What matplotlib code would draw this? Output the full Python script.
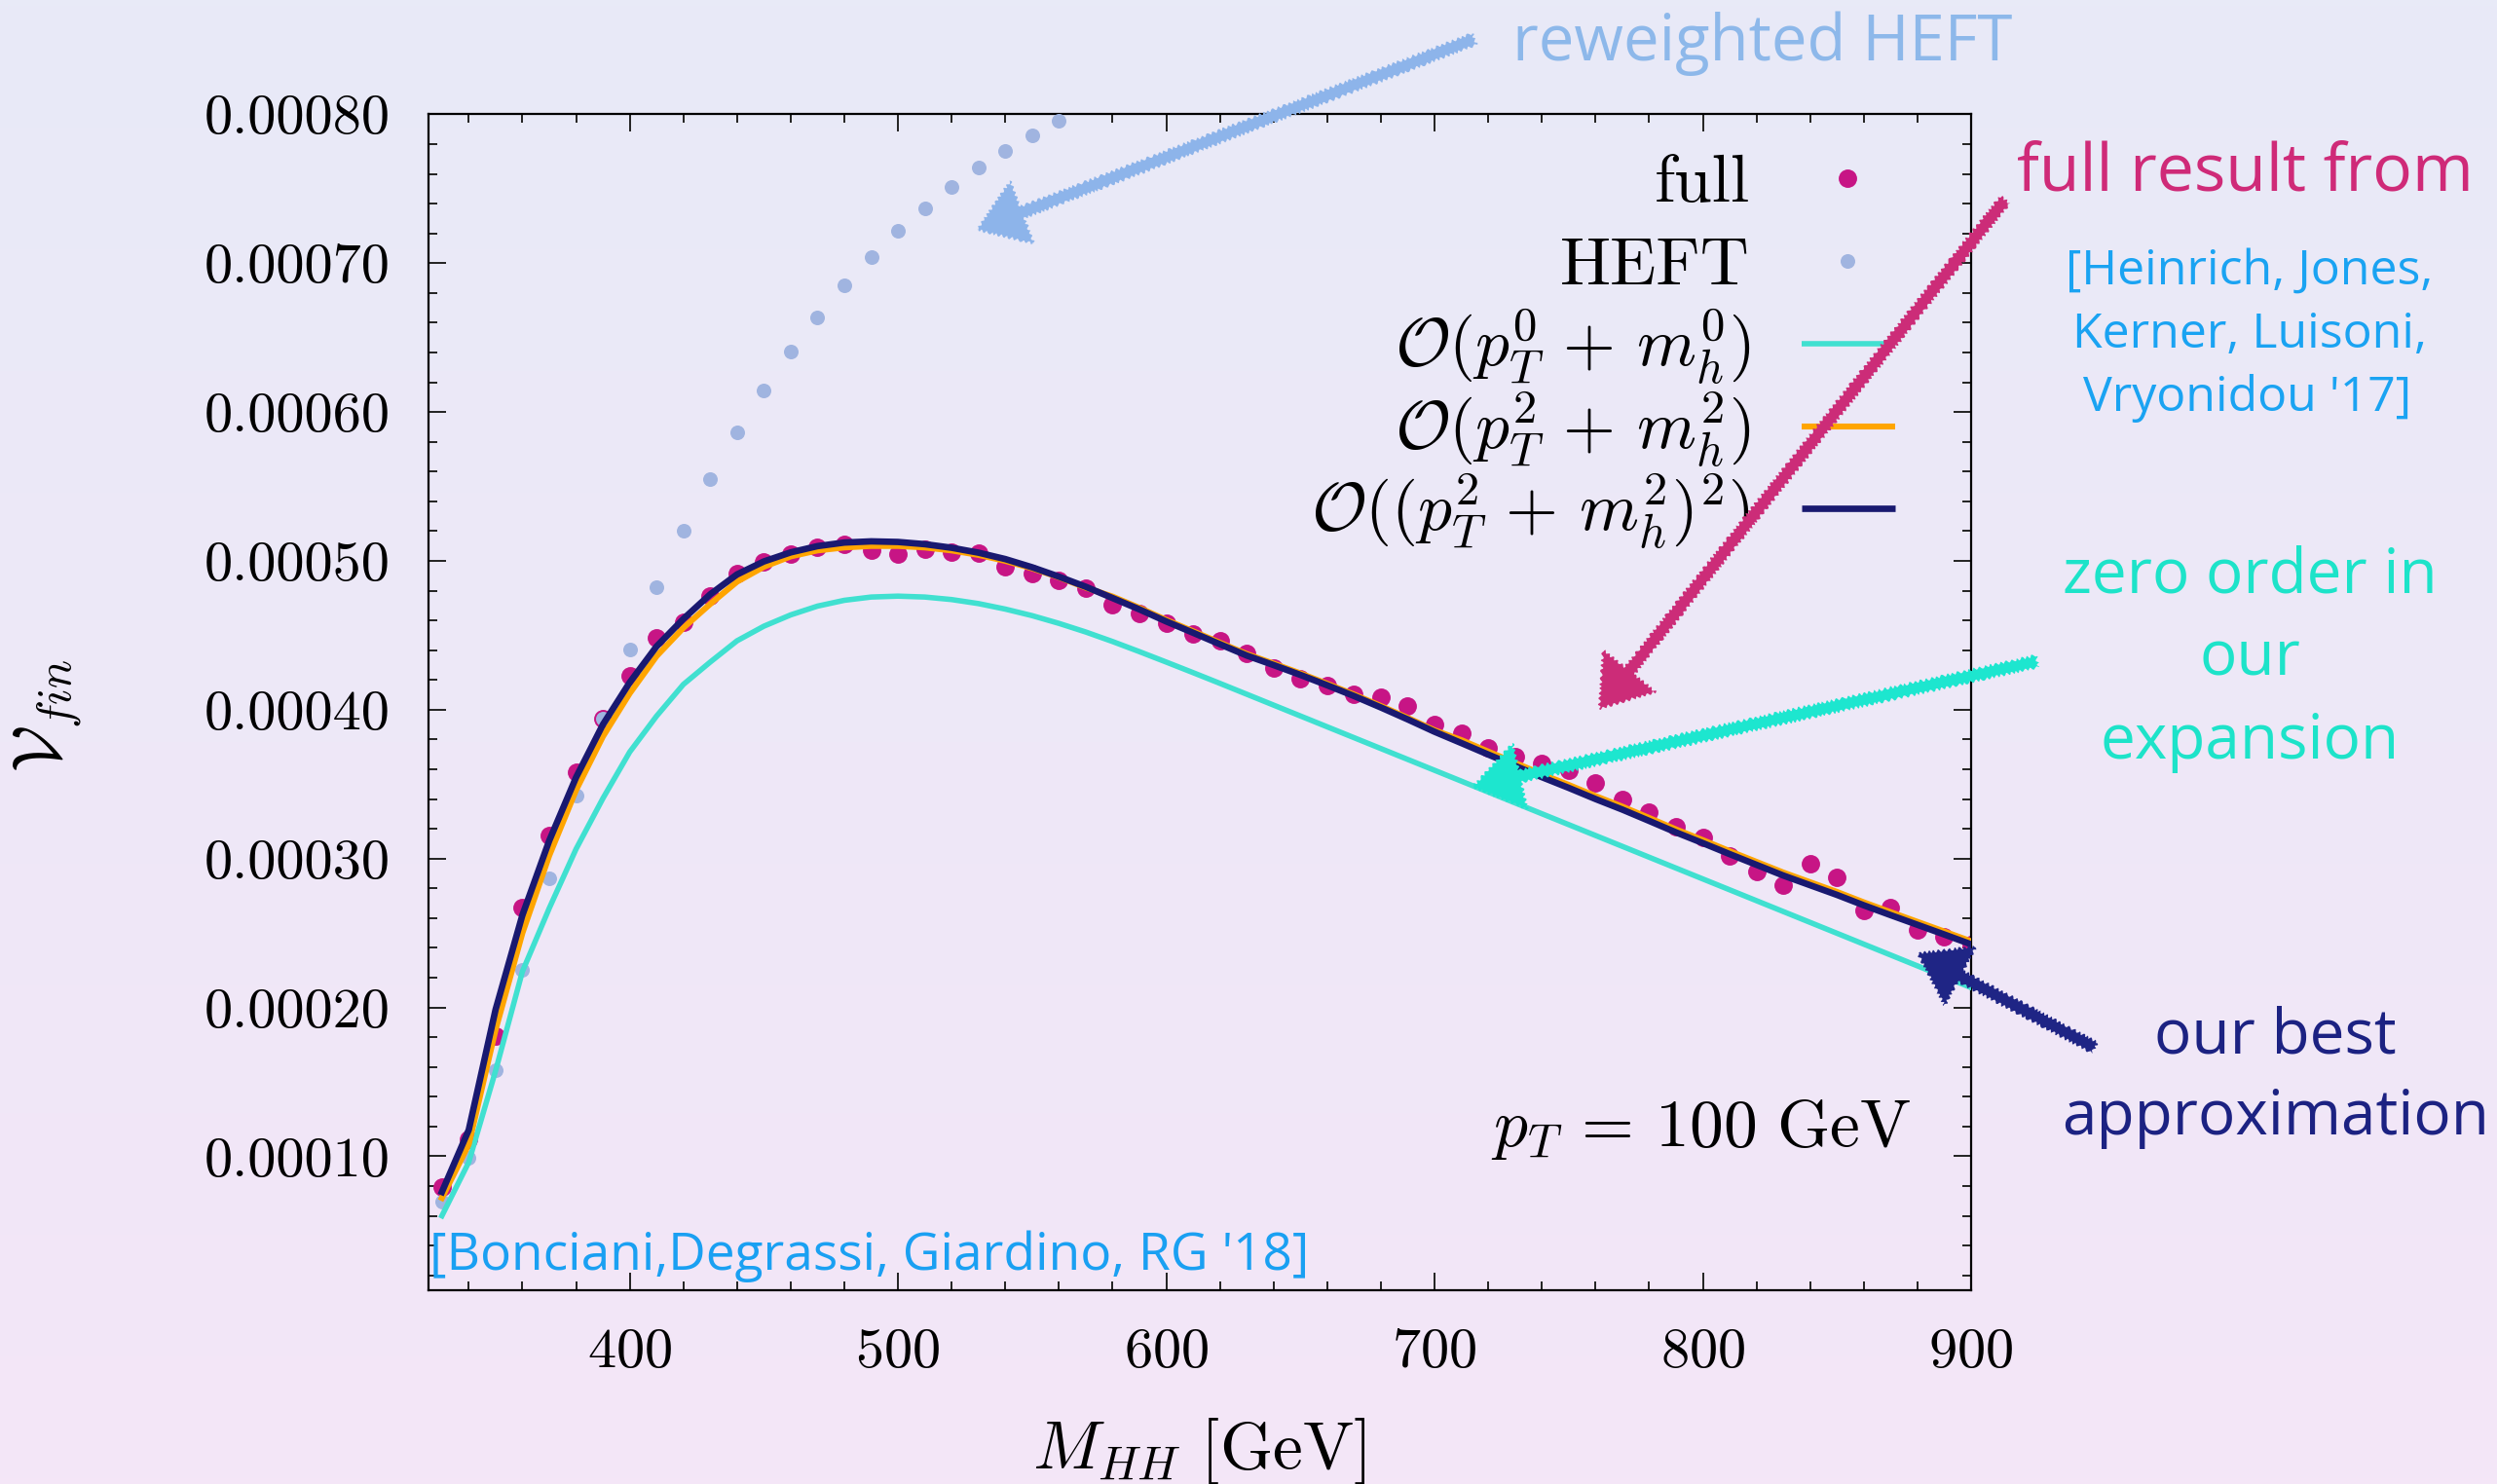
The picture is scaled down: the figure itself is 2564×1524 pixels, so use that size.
import numpy as np
import matplotlib
matplotlib.use('Agg')
import matplotlib.pyplot as plt
from matplotlib.ticker import MultipleLocator, FormatStrFormatter
from matplotlib.patches import FancyArrowPatch
from matplotlib.lines import Line2D

# M_HH grid (GeV)
m_full = np.arange(330, 901, 10)
m_heft = np.arange(330, 561, 10)
m_curve = np.arange(330, 901, 10)

# full result (points)
v_full = [0.0000795, 0.0001116, 0.0001810, 0.0002673, 0.0003154, 0.0003582,
          0.0003942, 0.0004226, 0.0004480, 0.0004587, 0.0004765, 0.0004912,
          0.0004993, 0.0005046, 0.0005093, 0.0005111, 0.0005071, 0.0005048,
          0.0005077, 0.0005060, 0.0005052, 0.0004960, 0.0004917, 0.0004868,
          0.0004819, 0.0004708, 0.0004647, 0.0004582, 0.0004510, 0.0004462,
          0.0004381, 0.0004279, 0.0004211, 0.0004163, 0.0004103, 0.0004085,
          0.0004026, 0.0003900, 0.0003841, 0.0003743, 0.0003684, 0.0003640,
          0.0003595, 0.0003510, 0.0003398, 0.0003311, 0.0003215, 0.0003143,
          0.0003019, 0.0002910, 0.0002823, 0.0002964, 0.0002875, 0.0002653,
          0.0002674, 0.0002522, 0.0002472, 0.0002424]

# reweighted HEFT (points)
v_heft = [0.0000696, 0.0000990, 0.0001580, 0.0002255, 0.0002865, 0.0003426,
          0.0003940, 0.0004402, 0.0004821, 0.0005203, 0.0005549, 0.0005865,
          0.0006147, 0.0006404, 0.0006638, 0.0006850, 0.0007039, 0.0007215,
          0.0007369, 0.0007511, 0.0007640, 0.0007757, 0.0007861, 0.0007955]

# O(pT^0 + mh^0)
v_lo = [0.0000600, 0.0000960, 0.0001574, 0.0002241, 0.0002666, 0.0003064,
        0.0003404, 0.0003716, 0.0003957, 0.0004170, 0.0004320, 0.0004463,
        0.0004561, 0.0004637, 0.0004696, 0.0004735, 0.0004757, 0.0004763,
        0.0004757, 0.0004740, 0.0004713, 0.0004676, 0.0004632, 0.0004580,
        0.0004522, 0.0004458, 0.0004390, 0.0004320, 0.0004249, 0.0004177,
        0.0004104, 0.0004031, 0.0003958, 0.0003885, 0.0003812, 0.0003739,
        0.0003666, 0.0003593, 0.0003520, 0.0003447, 0.0003374, 0.0003301,
        0.0003228, 0.0003155, 0.0003082, 0.0003009, 0.0002936, 0.0002863,
        0.0002790, 0.0002717, 0.0002644, 0.0002571, 0.0002498, 0.0002425,
        0.0002352, 0.0002279, 0.0002206, 0.0002133]

# O(pT^2 + mh^2)
v_nlo = [0.0000720, 0.0001080, 0.0001850, 0.0002500, 0.0003020, 0.0003460,
         0.0003820, 0.0004110, 0.0004360, 0.0004550, 0.0004710, 0.0004860,
         0.0004960, 0.0005030, 0.0005070, 0.0005090, 0.0005100, 0.0005100,
         0.0005090, 0.0005070, 0.0005040, 0.0005000, 0.0004950, 0.0004890,
         0.0004820, 0.0004760, 0.0004684, 0.0004603, 0.0004527, 0.0004450,
         0.0004374, 0.0004310, 0.0004244, 0.0004174, 0.0004102, 0.0004025,
         0.0003945, 0.0003862, 0.0003796, 0.0003719, 0.0003643, 0.0003567,
         0.0003495, 0.0003420, 0.0003349, 0.0003273, 0.0003196, 0.0003124,
         0.0003050, 0.0002978, 0.0002906, 0.0002841, 0.0002776, 0.0002706,
         0.0002640, 0.0002575, 0.0002510, 0.0002444]

# O((pT^2 + mh^2)^2)
v_nnlo = [0.0000760, 0.0001177, 0.0001985, 0.0002620, 0.0003120, 0.0003545,
          0.0003900, 0.0004183, 0.0004425, 0.0004610, 0.0004775, 0.0004909,
          0.0004996, 0.0005057, 0.0005099, 0.0005123, 0.0005131, 0.0005127,
          0.0005112, 0.0005088, 0.0005055, 0.0005012, 0.0004957, 0.0004894,
          0.0004826, 0.0004750, 0.0004674, 0.0004593, 0.0004517, 0.0004440,
          0.0004364, 0.0004300, 0.0004234, 0.0004164, 0.0004092, 0.0004015,
          0.0003935, 0.0003852, 0.0003776, 0.0003699, 0.0003623, 0.0003547,
          0.0003475, 0.0003400, 0.0003329, 0.0003253, 0.0003176, 0.0003104,
          0.0003030, 0.0002958, 0.0002886, 0.0002821, 0.0002756, 0.0002686,
          0.0002620, 0.0002555, 0.0002490, 0.0002424]

C_FULL = '#c71585'
C_HEFT = '#a0b4e0'
C_LO = '#40e0d0'
C_NLO = '#ffa500'
C_NNLO = '#191970'

W, H, DPI = 2564, 1524, 200

plt.rcParams['font.family'] = 'serif'
plt.rcParams['font.serif'] = ['cmr10']
plt.rcParams['mathtext.fontset'] = 'cm'
plt.rcParams['axes.formatter.use_mathtext'] = True


def fx(x):
    return x / W


def fy(y):
    return 1 - y / H


fig = plt.figure(figsize=(W / DPI, H / DPI), dpi=DPI)

# soft vertical background gradient
bg = fig.add_axes([0, 0, 1, 1], zorder=-10)
c_top = np.array([0xe8, 0xea, 0xf7]) / 255
c_bot = np.array([0xf4, 0xe6, 0xf7]) / 255
t = np.linspace(0, 1, 256)[:, None]
grad = c_top + (c_bot - c_top) * t
bg.imshow(grad[:, None, :], aspect='auto', extent=[0, 1, 0, 1])
bg.axis('off')

ax = fig.add_axes([fx(440), fy(1325), (2024 - 440) / W, (1325 - 117.4) / H])
ax.patch.set_alpha(0)

ax.plot(m_full, v_full, 'o', color=C_FULL, ms=6.8, mew=0, zorder=2)
ax.plot(m_heft, v_heft, 'o', color=C_HEFT, ms=5.4, mew=0, zorder=3)
ax.plot(m_curve, v_lo, color=C_LO, lw=2.0, zorder=4)
ax.plot(m_curve, v_nlo, color=C_NLO, lw=2.2, zorder=5)
ax.plot(m_curve, v_nnlo, color=C_NNLO, lw=2.4, zorder=6)

ax.set_xlim(325, 900)
ax.set_ylim(0.00001, 0.0008)
ax.xaxis.set_major_locator(MultipleLocator(100))
ax.xaxis.set_minor_locator(MultipleLocator(20))
ax.yaxis.set_major_locator(MultipleLocator(0.0001))
ax.yaxis.set_minor_locator(MultipleLocator(0.00002))
ax.yaxis.set_major_formatter(FormatStrFormatter('%.5f'))
ax.tick_params(which='both', direction='in', top=True, right=True,
               width=0.7, color='#222222', labelsize=21, pad=14)
ax.tick_params(which='major', length=6.5)
ax.tick_params(which='minor', length=3.3)
for s in ax.spines.values():
    s.set_linewidth(0.8)

fig.text(fx(1231), fy(1508), r'$M_{HH}\ [\mathrm{GeV}]$', fontsize=25,
         ha='center', va='baseline')
fig.text(fx(50), fy(735), r'$\mathcal{V}_{fin}$', fontsize=25,
         rotation=90, ha='center', va='center')

fig.text(fx(1962), fy(1177), r'$p_T \,=\, 100\ \mathrm{GeV}$', fontsize=25,
         ha='right', va='baseline')

# key, labels to the left of their symbols
labels = ['full', 'HEFT', r'$\mathcal{O}(p_T^0 \,+\, m_h^0)$',
          r'$\mathcal{O}(p_T^2 \,+\, m_h^2)$',
          r'$\mathcal{O}((p_T^2 \,+\, m_h^2)^2)$']
base_y = [207, 292, 376, 461, 545]
mark_y = [183, 268, 353, 437.5, 522]
for lab, by in zip(labels, base_y):
    fig.text(fx(1797), fy(by), lab, fontsize=25, ha='right', va='baseline')
fig.add_artist(Line2D([fx(1897)], [fy(mark_y[0])], marker='o', ms=6.8, mew=0,
                      color=C_FULL, ls='none'))
fig.add_artist(Line2D([fx(1897)], [fy(mark_y[1])], marker='o', ms=5.4, mew=0,
                      color=C_HEFT, ls='none'))
for c, my, lw in zip([C_LO, C_NLO, C_NNLO], mark_y[2:], [2.0, 2.2, 2.4]):
    fig.add_artist(Line2D([fx(1850), fx(1946)], [fy(my), fy(my)],
                          color=c, lw=lw, solid_capstyle='butt'))

# hand-written notes
hand = 'Open Sans'
notes = [
    ('reweighted HEFT', 1553, 62, 'left', '#8db8ea', 23.5),
    ('full result from', 2071, 196, 'left', '#cf2a78', 24.5),
    ('[Heinrich, Jones,', 2310, 292, 'center', '#1aa3f2', 18),
    ('Kerner, Luisoni,', 2310, 357, 'center', '#1aa3f2', 18),
    ("Vryonidou '17]", 2308, 422, 'center', '#1aa3f2', 18),
    ('zero order in', 2310, 609, 'center', '#1de3c9', 23),
    ('our', 2310, 694, 'center', '#1de3c9', 23),
    ('expansion', 2310, 779, 'center', '#1de3c9', 23),
    ('our best', 2336, 1081, 'center', '#1c2282', 23),
    ('approximation', 2337, 1165, 'center', '#1c2282', 23),
    ("[Bonciani,Degrassi, Giardino, RG '18]", 441, 1304, 'left', '#1aa0f2', 19.2),
]
for txt, x, y, ha, c, fs in notes:
    fig.text(fx(x), fy(y), txt, family=hand, fontsize=fs, color=c,
             ha=ha, va='baseline')

arrows = [
    ((1514, 40), (1003, 236), '#8db4ea'),
    ((2059, 205), (1642, 728), '#cc2c78'),
    ((2092, 679), (1512, 808), '#1de6cf'),
    ((2151, 1076), (1969, 979), '#1f2585'),
]
for (x0, y0), (x1, y1), c in arrows:
    arr = FancyArrowPatch((fx(x0), fy(y0)), (fx(x1), fy(y1)),
                          transform=fig.transFigure,
                          arrowstyle='simple,head_length=1.8,head_width=2.5,tail_width=0.45',
                          mutation_scale=10, color=c, lw=0,
                          shrinkA=0, shrinkB=0, zorder=8)
    arr.set_sketch_params(scale=1.5, length=6, randomness=2)
    fig.add_artist(arr)

fig.savefig('out.png', dpi=DPI)
